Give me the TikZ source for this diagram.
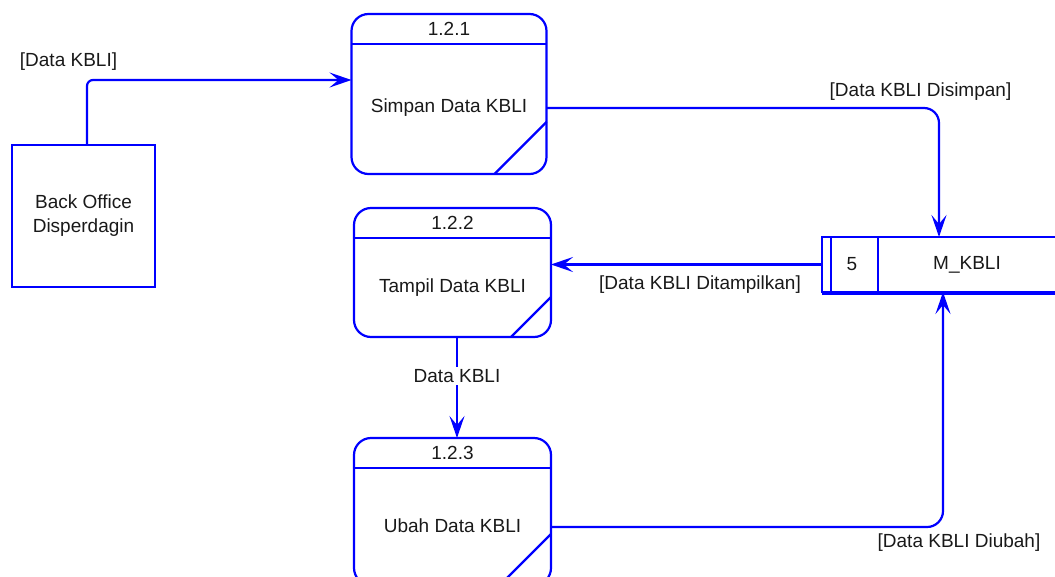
\documentclass[tikz,border=0pt]{standalone}
\usepackage{fontspec}
\setmainfont{Liberation Sans}
\usetikzlibrary{arrows.meta,calc}
\definecolor{dfdblue}{RGB}{0,0,255}
\begin{document}
\begin{tikzpicture}[x=1pt,y=-1pt,
  every node/.style={font=\fontsize{19}{24}\selectfont, text=black!90, inner sep=0pt, outer sep=0pt},
  ln/.style={draw=dfdblue, line width=2.2pt},
  proc/.style={ln, rounded corners=17pt},
  entity/.style={ln, align=center},
  flow/.style={draw=dfdblue, line width=2.2pt, -{Stealth[length=22pt,width=15pt,inset=9pt]}},
  flowlabel/.style={fill=white, inner sep=2pt}]
\useasboundingbox (0,0) rectangle (1055,576);

% external entity
\node[entity, minimum width=143pt, minimum height=142pt] (ext) at (83.5,216) {Back Office\\Disperdagin};

% processes
\node[proc, minimum width=195pt, minimum height=160pt] (p1) at (449,94) {};
\node[proc, minimum width=197pt, minimum height=129pt] (p2) at (452.5,272.5) {};
\node[proc, minimum width=197pt, minimum height=147pt] (p3) at (452.5,511.5) {};

\foreach \p/\id/\txt/\off/\cut in {p1/1.2.1/Simpan Data KBLI/14/52, p2/1.2.2/Tampil Data KBLI/15.5/40, p3/1.2.3/Ubah Data KBLI/14/51}{
  \draw[ln] ([yshift=-30pt]\p.north west) -- ([yshift=-30pt]\p.north east);
  \draw[ln] ([yshift=\cut pt]\p.south east) -- ([xshift=-\cut pt]\p.south east);
  \node (\p id) at ([yshift=-15pt]\p.north) {\id};
  \node (\p txt) at ([yshift=-\off pt]\p.center) {\txt};
}

% data store
\node[minimum width=260pt, minimum height=55pt, anchor=north west] (st) at (822,237) {};
\draw[ln] (st.north east) -- (st.north west) -- (st.south west) -- (st.south east);
\draw[ln] ([yshift=-1.6pt]st.south west) -- ([yshift=-1.6pt]st.south east);
\draw[ln] ([xshift=9pt]st.north west) -- ([xshift=9pt]st.south west);
\draw[ln] ([xshift=56pt]st.north west) -- ([xshift=56pt]st.south west);
\node (stid) at ([xshift=30pt]st.west) {5};
\node (stname) at ([xshift=145pt]st.west) {M\_KBLI};

% routing points
\coordinate (c1) at (87,80);
\coordinate (c2) at (0,108);
\coordinate (c3) at (939,0);
\coordinate (c4) at (457,0);
\coordinate (c5) at (0,527);
\coordinate (c6) at (943,0);

% data flows
\draw[flow, rounded corners=6pt] (c1 |- ext.north) |- (p1.west |- c1);
\node (l1) at (68.5,62) {[Data KBLI]};

\draw[flow, rounded corners=15pt] (p1.east |- c2) -| (c3 |- st.north);
\node (l2) at (920.5,92) {[Data KBLI Disimpan]};

\draw[flow] (st.west) -- (st.west -| p2.east);
\node (l3) at (700,285) {[Data KBLI Ditampilkan]};

\draw[flow] (c4 |- p2.south) -- (c4 |- p3.north);
\node[flowlabel] (l4) at (457,376) {Data KBLI};

\draw[flow, rounded corners=16pt] (p3.east |- c5) -| (c6 |- st.south);
\node (l5) at (959,543) {[Data KBLI Diubah]};
\end{tikzpicture}
\end{document}
